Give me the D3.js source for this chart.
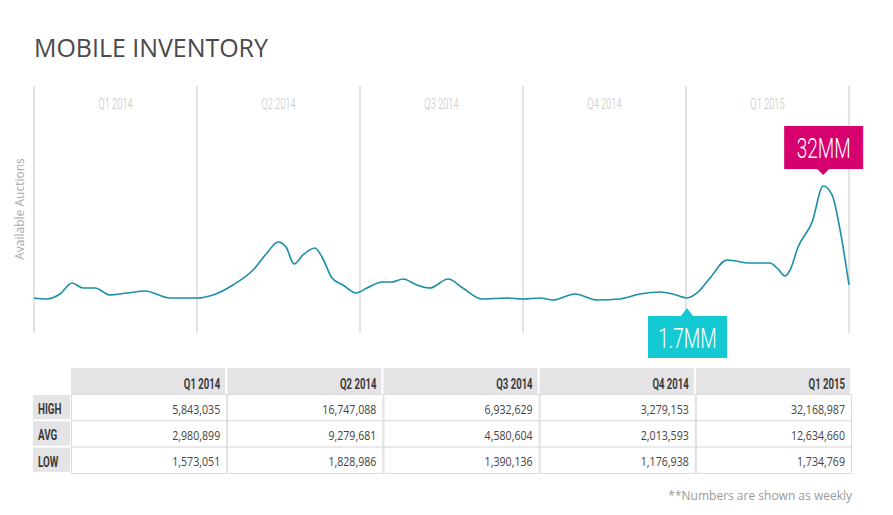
<!DOCTYPE html>
<html>
<head>
<meta charset="utf-8">
<script src="https://cdn.jsdelivr.net/npm/d3@7"></script>
<style>
  body { margin: 0; background: #fff; }
  svg { display: block; }
</style>
</head>
<body>
<div id="container"></div>
<script>
// quarters shown above the chart and as table columns
const quarters = ["Q1 2014", "Q2 2014", "Q3 2014", "Q4 2014", "Q1 2015"];
// weekly position (weeks since start of Q1 2014) and available auctions (millions)
const weeks = [0, 1.04, 2.07, 3.03, 3.91, 4.87, 6.06, 7.42, 8.85, 10.85, 13.0, 14.28, 15.87, 17.47, 18.58, 19.46, 20.1, 20.74, 21.45, 22.41, 22.97, 23.77, 24.64, 25.68, 26.56, 27.76, 28.55, 29.43, 30.55, 31.58, 33.02, 34.2, 35.73, 37.73, 39.0, 40.36, 41.39, 43.15, 44.9, 46.74, 48.33, 49.93, 50.96, 52.08, 52.88, 53.92, 55.27, 57.1, 58.7, 59.26, 59.9, 60.3, 60.94, 62.06, 62.94, 63.65, 64.29, 65.0];
const auctions = [1.70, 1.43, 2.79, 5.76, 4.41, 4.41, 2.52, 3.06, 3.60, 1.70, 1.70, 2.52, 5.22, 9.28, 13.88, 16.86, 15.5, 10.9, 13.34, 15.23, 12.8, 7.1, 5.22, 3.06, 4.41, 6.03, 6.03, 6.85, 5.22, 4.41, 6.85, 4.41, 1.43, 1.70, 1.43, 1.70, 1.16, 2.79, 1.16, 1.43, 2.79, 3.33, 2.79, 1.70, 3.06, 7.12, 11.99, 11.17, 11.17, 9.82, 7.66, 9.28, 15.5, 22.27, 32.0, 29.6, 20.1, 5.22];
// callouts
const peakLabel = {week: 62.94, value: 32.0, text: "32MM"};
const lowLabel = {week: 52.08, value: 1.70, text: "1.7MM"};
// table
const rowLabels = ["HIGH", "AVG", "LOW"];
const highVals = ["5,843,035", "16,747,088", "6,932,629", "3,279,153", "32,168,987"];
const avgVals = ["2,980,899", "9,279,681", "4,580,604", "2,013,593", "12,634,660"];
const lowVals = ["1,573,051", "1,828,986", "1,390,136", "1,176,938", "1,734,769"];

const width = 893, height = 515;

const svg = d3.select("#container").append("svg")
    .attr("width", width)
    .attr("height", height);

// condensed look: squeeze Roboto horizontally
function squeezed(parent, tx, ty, sx, txt) {
    return parent.append("text")
        .attr("transform", `translate(${tx},${ty}) scale(${sx},1)`)
        .attr("font-family", "Roboto, sans-serif")
        .text(txt);
}

svg.append("text")
    .attr("x", 34)
    .attr("y", 57)
    .attr("font-family", "'Open Sans', sans-serif")
    .attr("font-size", "25px")
    .attr("fill", "#4a4a4a")
    .attr("textLength", 234)
    .text("MOBILE INVENTORY");

const x = d3.scaleLinear().domain([0, 65]).range([34, 849]);
const y = d3.scaleLinear().domain([0, 32]).range([304.3, 186]);

// quarter divider lines
svg.append("g")
    .selectAll("line")
    .data(d3.range(quarters.length + 1))
    .enter()
    .append("line")
    .attr("x1", d => x(d * 13))
    .attr("x2", d => x(d * 13))
    .attr("y1", 86)
    .attr("y2", 333)
    .attr("stroke", "#c8c8c8")
    .attr("stroke-width", 1);

quarters.forEach((q, i) => {
    squeezed(svg, x(i * 13 + 6.5), 109, 0.62, q)
        .attr("text-anchor", "middle")
        .attr("font-size", "15px")
        .attr("font-weight", 300)
        .attr("fill", "#c4c4c4");
});

svg.append("text")
    .attr("transform", "rotate(-90)")
    .attr("x", -209)
    .attr("y", 24)
    .attr("text-anchor", "middle")
    .attr("font-family", "'Open Sans', sans-serif")
    .attr("font-size", "12px")
    .attr("fill", "#a8a8a8")
    .text("Available Auctions");

const pts = weeks.map((w, i) => [w, auctions[i]]);
svg.append("path")
    .datum(pts)
    .attr("fill", "none")
    .attr("stroke", "#1b8ea8")
    .attr("stroke-width", 1.6)
    .attr("d", d3.line()
        .x(d => x(d[0]))
        .y(d => y(d[1]))
        .curve(d3.curveMonotoneX));

// peak callout (above)
const px = x(peakLabel.week), py = y(peakLabel.value);
svg.append("path")
    .attr("fill", "#d6006f")
    .attr("d", `M${px - 39},${py - 60} H${px + 40} V${py - 17} H${px + 6} L${px},${py - 11} L${px - 6},${py - 17} H${px - 39} Z`);
squeezed(svg, px + 0.5, py - 28, 0.68, peakLabel.text)
    .attr("text-anchor", "middle")
    .attr("font-size", "28px")
    .attr("font-weight", 300)
    .attr("fill", "#fff");

// low callout (below)
const lx = x(lowLabel.week), ly = y(lowLabel.value);
svg.append("path")
    .attr("fill", "#14c9d2")
    .attr("d", `M${lx - 39},${ly + 18} H${lx - 6} L${lx},${ly + 10} L${lx + 6},${ly + 18} H${lx + 40} V${ly + 60} H${lx - 39} Z`);
squeezed(svg, lx + 0.5, ly + 50, 0.68, lowLabel.text)
    .attr("text-anchor", "middle")
    .attr("font-size", "28px")
    .attr("font-weight", 300)
    .attr("fill", "#fff");

// table
const colX = d3.scaleBand().domain(quarters).range([71, 852]);
const headTop = 368, headH = 26;
const rowH = 26.3;
const rowTop = i => 394 + i * rowH;
const table = [highVals, avgVals, lowVals];

// header cells
svg.append("g")
    .selectAll("rect")
    .data(quarters)
    .enter()
    .append("rect")
    .attr("x", d => colX(d))
    .attr("y", headTop)
    .attr("width", colX.bandwidth() - 2)
    .attr("height", headH)
    .attr("fill", "#e4e4e6");

quarters.forEach(q => {
    squeezed(svg, colX(q) + colX.bandwidth() - 7, 389, 0.66, q)
        .attr("text-anchor", "end")
        .attr("font-weight", "bold")
        .attr("font-size", "14.5px")
        .attr("fill", "#3a3a3a");
});

// body cells
rowLabels.forEach((r, ri) => {
    const top = rowTop(ri);
    svg.append("rect")
        .attr("x", 33)
        .attr("y", top + 1)
        .attr("width", 37)
        .attr("height", rowH - 2)
        .attr("fill", "#e4e4e6");
    squeezed(svg, 38, top + 20, 0.68, r)
        .attr("font-weight", "bold")
        .attr("font-size", "14.5px")
        .attr("fill", "#3a3a3a");

    svg.append("g")
        .selectAll("rect")
        .data(quarters)
        .enter()
        .append("rect")
        .attr("x", d => colX(d) + 0.5)
        .attr("y", top + 0.5)
        .attr("width", colX.bandwidth() - 1)
        .attr("height", rowH)
        .attr("fill", "#fff")
        .attr("stroke", "#dcdcdc")
        .attr("stroke-width", 1);

    table[ri].forEach((v, i) => {
        squeezed(svg, colX(quarters[i]) + colX.bandwidth() - 7, top + 19.5, 0.85, v)
            .attr("text-anchor", "end")
            .attr("font-family", "'Open Sans', sans-serif")
            .attr("font-size", "12.5px")
            .attr("fill", "#444");
    });
});

svg.append("text")
    .attr("x", 852)
    .attr("y", 500)
    .attr("text-anchor", "end")
    .attr("font-family", "'Open Sans', sans-serif")
    .attr("font-size", "12px")
    .attr("fill", "#9a9a9a")
    .text("**Numbers are shown as weekly");
</script>
</body>
</html>
